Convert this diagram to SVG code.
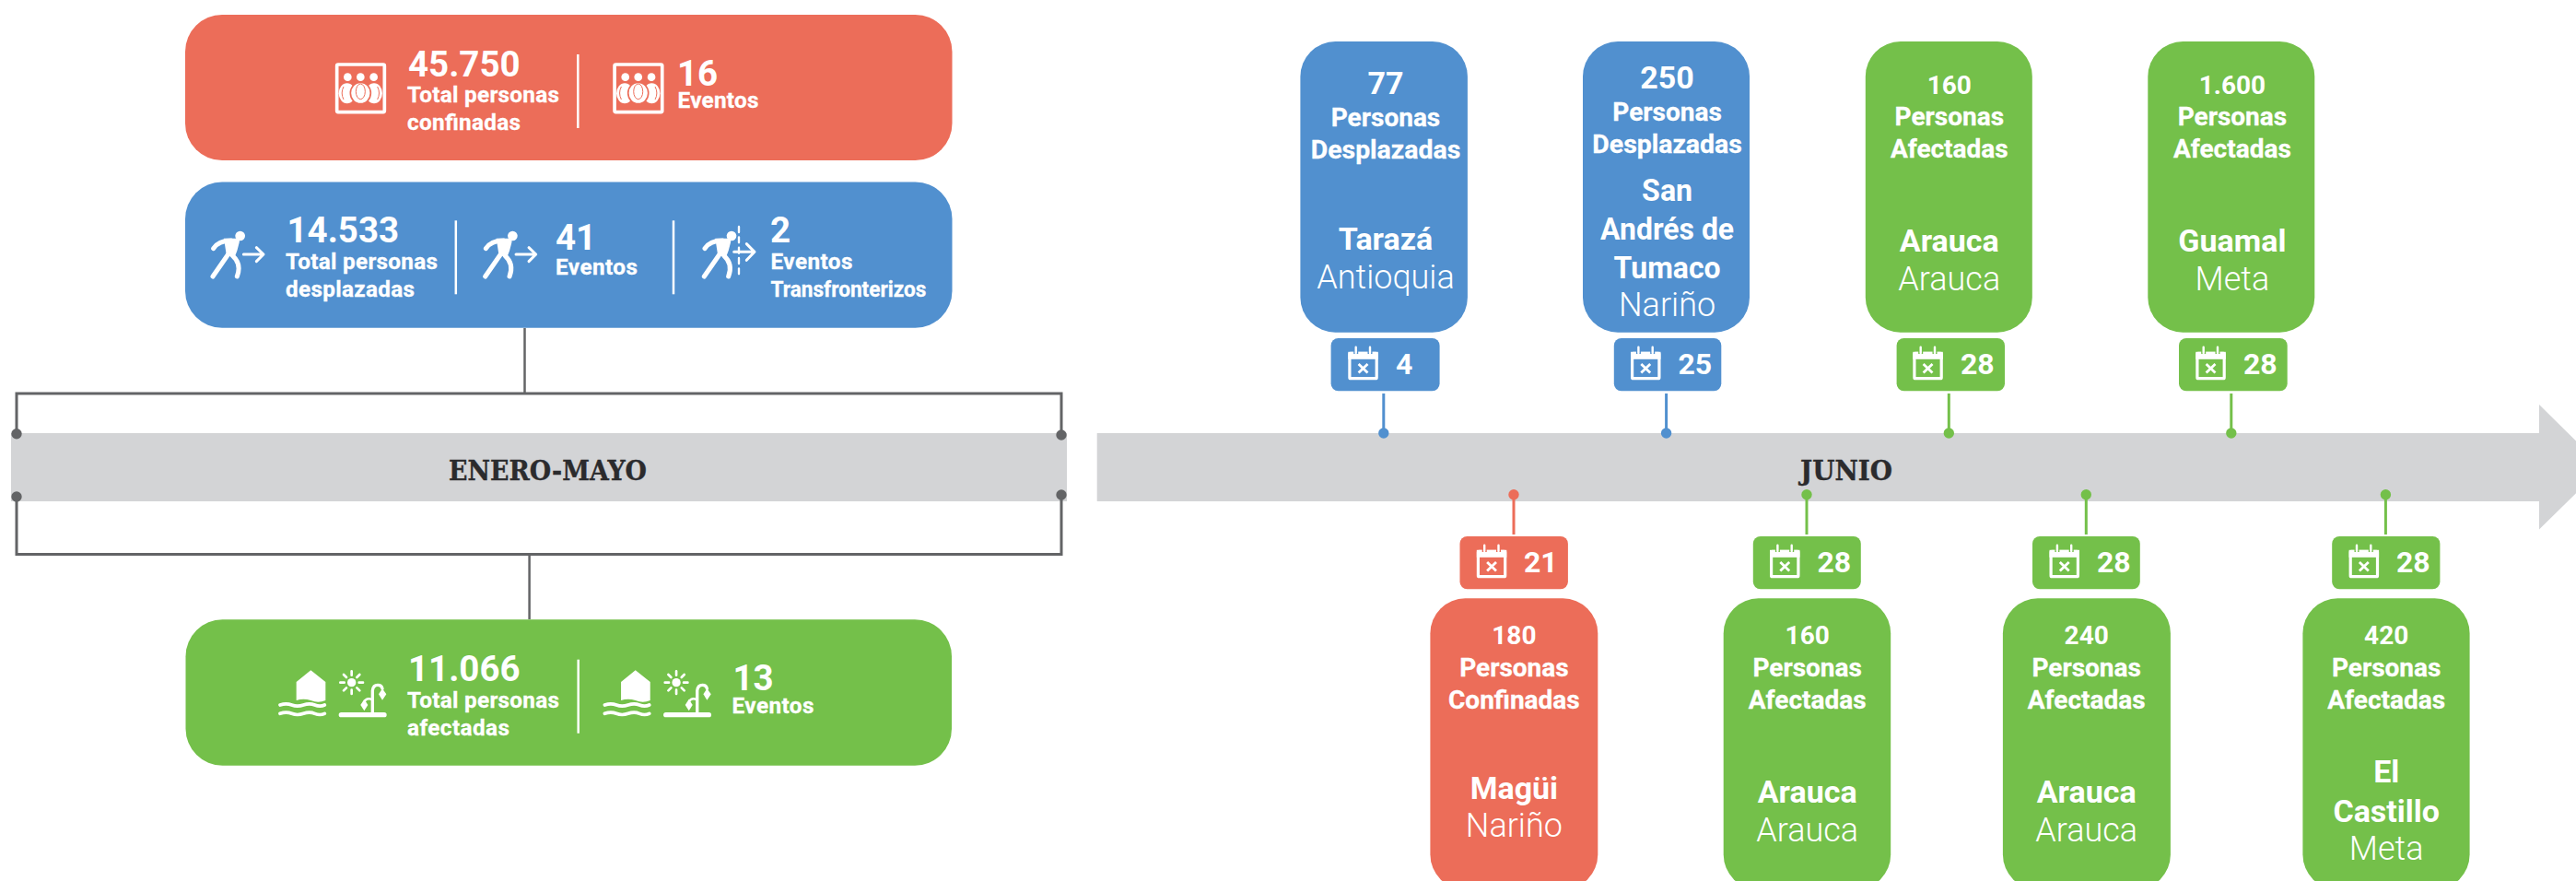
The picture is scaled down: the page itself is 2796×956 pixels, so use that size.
<svg xmlns="http://www.w3.org/2000/svg" width="2796" height="956" viewBox="0 0 2796 956">
<style>
text{font-family:Roboto,"Liberation Sans",sans-serif;fill:#fff}
.m{text-anchor:middle}
.big{font-size:38.5px;font-weight:700}
.sm{font-size:24.3px;font-weight:700;stroke:#fff;stroke-width:.3}
.n34{font-size:34px;font-weight:700}
.n28{font-size:28px;font-weight:700}
.p{font-size:28px;font-weight:700;stroke:#fff;stroke-width:.3}
.pl{font-size:34px;font-weight:700}
.dp{font-size:36px;font-weight:300}
.d{font-size:32px;font-weight:700}
.month{font-family:"DejaVu Serif","Liberation Serif",serif;font-weight:700;font-size:30px;fill:#2b2b2d;stroke:#2b2b2d;stroke-width:.4;text-anchor:middle}
.red{fill:#ec6d59;color:#ec6d59}
.blue{fill:#5190cf;color:#5190cf}
.green{fill:#74c04a;color:#74c04a}
.div{stroke:#fff;stroke-width:2.5}
.gl{stroke:#636466;stroke-width:3;fill:none}
.glt{stroke:#636466;stroke-width:2.5;fill:none}
.gd{fill:#636466}
.ws{stroke:#fff;fill:none;stroke-linecap:round;stroke-linejoin:round}
.wf{fill:#fff}
</style>
<defs>
<g id="cal">
<rect x="1.6" y="7.3" width="29.3" height="27.4" fill="none" stroke="#fff" stroke-width="3.2" rx="1"/>
<rect x="0" y="5.8" width="32.5" height="8" fill="#fff"/>
<path d="M8.4 0V8M23.7 0V8" stroke="currentColor" stroke-width="5"/>
<path d="M8.4 .8V7M23.7 .8V7" stroke="#fff" stroke-width="2.4" stroke-linecap="round"/>
<path d="M11.3 19L21.2 28.5M21.2 19L11.3 28.5" stroke="#fff" stroke-width="2.8"/>
</g>
<g id="runner">
<circle cx="137" cy="108" r="16" class="wf"/>
<path d="M50 149C62 130 80 123 108 123" class="ws" stroke-width="15"/>
<path d="M84 116H126Q137 116 134 130Q129 155 118 180L92 168Z" class="wf"/>
<path d="M100 165L48 240" class="ws" stroke-width="15"/>
<path d="M112 172C128 186 140 206 127 240" class="ws" stroke-width="15"/>
</g>
<path id="arrow1" d="M148 168H211M190 146L213 168L190 191" class="ws" stroke-width="9"/>
<g id="people">
<rect x="77" y="90" width="155" height="155" rx="4" fill="none" stroke="#fff" stroke-width="11"/>
<circle cx="112" cy="131" r="13" class="wf"/>
<circle cx="154" cy="131" r="13" class="wf"/>
<circle cx="197" cy="131" r="13" class="wf"/>
<ellipse cx="110" cy="184" rx="27" ry="33" class="wf"/>
<ellipse cx="198" cy="184" rx="27" ry="33" class="wf"/>
<ellipse cx="154" cy="183" rx="33" ry="35" fill="#fff" stroke="#ec6d59" stroke-width="5"/>
<ellipse cx="154" cy="178" rx="15" ry="25" fill="none" stroke="#ec6d59" stroke-width="3"/>
<path d="M99 162Q88 183 99 204M209 162Q220 183 209 204" fill="none" stroke="#ec6d59" stroke-width="3"/>
</g>
<g id="flood">
<path d="M95 90L142 52L190 90V150Q166 160 142 150Q118 142 95 150Z" class="wf"/>
<path d="M42 165Q62 158 80 165T118 165T155 165T187 165M42 193Q62 186 80 193T118 193T155 193T187 193" class="ws" stroke-width="11"/>
<circle cx="275" cy="92" r="14" class="wf"/>
<path d="M275 55V68M275 116V129M238 92H251M299 92H312M249 66L258 75M292 109L301 118M301 66L292 75M258 109L249 118" class="ws" stroke-width="8"/>
<path d="M241 197H381" class="ws" stroke-width="16"/>
<path d="M343 190V118Q345 100 360 100Q373 100 375 112" class="ws" stroke-width="10"/>
<path d="M343 148Q325 140 318 152" class="ws" stroke-width="7"/>
<path d="M375 112L388 130L375 149L363 130Z" class="wf"/>
<path d="M316 146L328 165L316 184L304 165Z" class="wf"/>
</g>
</defs>
<rect width="2796" height="956" fill="#fff"/>
<g id="timeline-bars">
<rect id="bar-enero-mayo" x="12" y="470" width="1146" height="74" fill="#d3d4d6"/>
<path id="bar-junio" d="M1190.7 470H2756V439L2825 507L2756 574.5V544H1190.7Z" fill="#d3d4d6"/>
<text class="month" x="594.5" y="520.5" textLength="215" lengthAdjust="spacingAndGlyphs">ENERO-MAYO</text>
<text class="month" x="2004" y="520.5" textLength="100" lengthAdjust="spacingAndGlyphs">JUNIO</text>
</g>
<g id="connectors">
<path class="glt" d="M569.5 356V427"/>
<path class="gl" d="M18 471V427H1152V472"/>
<path class="gl" d="M18 539V601.5H1152V537"/>
<path class="glt" d="M574.6 601V672"/>
<circle class="gd" cx="18" cy="470.7" r="5.7"/>
<circle class="gd" cx="1152" cy="472" r="5.7"/>
<circle class="gd" cx="18" cy="539" r="5.7"/>
<circle class="gd" cx="1152" cy="537" r="5.7"/>
<g stroke-width="3">
<path d="M1501.8 427V470" stroke="#5190cf"/><circle class="blue" cx="1501.8" cy="470" r="5.7"/>
<path d="M1808.6 427V470" stroke="#5190cf"/><circle class="blue" cx="1808.6" cy="470" r="5.7"/>
<path d="M2115.3 427V470" stroke="#74c04a"/><circle class="green" cx="2115.3" cy="470" r="5.7"/>
<path d="M2421.8 427V470" stroke="#74c04a"/><circle class="green" cx="2421.8" cy="470" r="5.7"/>
<path d="M1643 537V580" stroke="#ec6d59"/><circle class="red" cx="1643" cy="536.7" r="5.7"/>
<path d="M1961 537V580" stroke="#74c04a"/><circle class="green" cx="1961" cy="536.7" r="5.7"/>
<path d="M2264.3 537V580" stroke="#74c04a"/><circle class="green" cx="2264.3" cy="536.7" r="5.7"/>
<path d="M2589.4 537V580" stroke="#74c04a"/><circle class="green" cx="2589.4" cy="536.7" r="5.7"/>
</g>
</g>
<g id="summary-confinadas">
<rect class="red" x="201" y="16" width="832.5" height="158" rx="40"/>
<use href="#people" transform="translate(340,40) scale(.33333)"/>
<text class="big" x="443" y="82.7">45.750</text>
<text class="sm" x="442" y="110.7" textLength="165">Total personas</text>
<text class="sm" x="442" y="140.7" textLength="123">confinadas</text>
<path class="div" d="M627.3 59V139"/>
<use href="#people" transform="translate(641.4,40) scale(.33333)"/>
<text class="big" x="735" y="92.7">16</text>
<text class="sm" x="735.5" y="117.3" textLength="88">Eventos</text>
</g>
<g id="summary-desplazadas">
<rect class="blue" x="201" y="197.5" width="832.5" height="158.2" rx="40"/>
<g transform="translate(215,220) scale(.33333)"><use href="#runner"/><use href="#arrow1"/></g>
<text class="big" x="311.5" y="263.3">14.533</text>
<text class="sm" x="310" y="291.7" textLength="165">Total personas</text>
<text class="sm" x="310" y="321.7" textLength="140">desplazadas</text>
<path class="div" d="M494.8 239.3V319.3"/>
<g transform="translate(510.7,220) scale(.33333)"><use href="#runner"/><use href="#arrow1"/></g>
<text class="big" x="603" y="270.7">41</text>
<text class="sm" x="603" y="297.7" textLength="89">Eventos</text>
<path class="div" d="M731 239.3V319.3"/>
<g transform="translate(740,220) scale(.33333)">
<use href="#runner" x="25"/>
<path d="M186 78V240" class="ws" stroke-width="7" stroke-dasharray="18 16" stroke-linecap="butt"/>
<path d="M170 160H234M211 134L237 160L211 187" class="ws" stroke-width="9"/>
</g>
<text class="big" x="836" y="263.3">2</text>
<text class="sm" x="836.5" y="291.7" textLength="89">Eventos</text>
<text class="sm" x="836.5" y="321.7" textLength="169" lengthAdjust="spacingAndGlyphs">Transfronterizos</text>
</g>
<g id="summary-afectadas">
<rect class="green" x="201.5" y="672.3" width="831.5" height="158.4" rx="40"/>
<use href="#flood" transform="translate(290,710) scale(.33333)"/>
<text class="big" x="443" y="739.3">11.066</text>
<text class="sm" x="442" y="767.7" textLength="165">Total personas</text>
<text class="sm" x="442" y="797.7" textLength="111">afectadas</text>
<path class="div" d="M627.7 715.7V795.7"/>
<use href="#flood" transform="translate(642.4,710) scale(.33333)"/>
<text class="big" x="795.5" y="749">13</text>
<text class="sm" x="794.5" y="774" textLength="89">Eventos</text>
</g>
<g id="event-taraza">
<rect class="blue" x="1411.4" y="45" width="181.5" height="315.7" rx="38"/>
<text class="n34 m" x="1504" y="101.7">77</text>
<text class="p m" x="1504" y="136.7">Personas</text>
<text class="p m" x="1504" y="171.7" textLength="162.5" lengthAdjust="spacingAndGlyphs">Desplazadas</text>
<text class="pl m" x="1504" y="270.7">Tarazá</text>
<text class="dp m" x="1504" y="312.7">Antioquia</text>
<rect class="blue" x="1444.6" y="367" width="118" height="57.3" rx="8"/>
<use href="#cal" x="1463.3" y="376" class="blue"/>
<text class="d" x="1515" y="405.7">4</text>
</g>
<g id="event-tumaco">
<rect class="blue" x="1718" y="45" width="181" height="315.7" rx="38"/>
<text class="n34 m" x="1809.6" y="96">250</text>
<text class="p m" x="1809.6" y="130.7">Personas</text>
<text class="p m" x="1809.6" y="165.7" textLength="162.5" lengthAdjust="spacingAndGlyphs">Desplazadas</text>
<text class="pl m" x="1809.6" y="218" textLength="55" lengthAdjust="spacingAndGlyphs">San</text>
<text class="pl m" x="1809.6" y="260" textLength="145" lengthAdjust="spacingAndGlyphs">Andrés de</text>
<text class="pl m" x="1809.6" y="301.7" textLength="116" lengthAdjust="spacingAndGlyphs">Tumaco</text>
<text class="dp m" x="1809.6" y="343.3">Nariño</text>
<rect class="blue" x="1751.8" y="367" width="116.5" height="57.3" rx="8"/>
<use href="#cal" x="1770" y="376" class="blue"/>
<text class="d" x="1821.5" y="405.7">25</text>
</g>
<g id="event-arauca-1">
<rect class="green" x="2024.8" y="45" width="181" height="315.7" rx="38"/>
<text class="n28 m" x="2115.8" y="101.8">160</text>
<text class="p m" x="2115.8" y="136.4">Personas</text>
<text class="p m" x="2115.8" y="171">Afectadas</text>
<text class="pl m" x="2115.8" y="272.7">Arauca</text>
<text class="dp m" x="2115.8" y="314.5">Arauca</text>
<rect class="green" x="2058.6" y="367" width="117.4" height="57.3" rx="8"/>
<use href="#cal" x="2076.3" y="376" class="green"/>
<text class="d" x="2128" y="405.7">28</text>
</g>
<g id="event-guamal">
<rect class="green" x="2331.3" y="45" width="181" height="315.7" rx="38"/>
<text class="n28 m" x="2422.9" y="101.8">1.600</text>
<text class="p m" x="2422.9" y="136.4">Personas</text>
<text class="p m" x="2422.9" y="171">Afectadas</text>
<text class="pl m" x="2422.9" y="272.7">Guamal</text>
<text class="dp m" x="2422.9" y="314.5">Meta</text>
<rect class="green" x="2365" y="367" width="117.7" height="57.3" rx="8"/>
<use href="#cal" x="2383.3" y="376" class="green"/>
<text class="d" x="2435" y="405.7">28</text>
</g>
<g id="event-magui">
<rect class="red" x="1552.4" y="649.3" width="181.9" height="316" rx="38"/>
<text class="n28 m" x="1643.4" y="699">180</text>
<text class="p m" x="1643.4" y="734">Personas</text>
<text class="p m" x="1643.4" y="768.7">Confinadas</text>
<text class="pl m" x="1643.4" y="866.7">Magüi</text>
<text class="dp m" x="1643.4" y="908.3">Nariño</text>
<rect class="red" x="1584.5" y="582" width="117.4" height="57.3" rx="8"/>
<use href="#cal" x="1602.8" y="591" class="red"/>
<text class="d" x="1654" y="620.7">21</text>
</g>
<g id="event-arauca-2">
<rect class="green" x="1870.7" y="649.3" width="181.5" height="316" rx="38"/>
<text class="n28 m" x="1961.7" y="699">160</text>
<text class="p m" x="1961.7" y="734">Personas</text>
<text class="p m" x="1961.7" y="768.7">Afectadas</text>
<text class="pl m" x="1961.7" y="870.7">Arauca</text>
<text class="dp m" x="1961.7" y="912.7">Arauca</text>
<rect class="green" x="1902.8" y="582" width="117" height="57.3" rx="8"/>
<use href="#cal" x="1921" y="591" class="green"/>
<text class="d" x="1972.4" y="620.7">28</text>
</g>
<g id="event-arauca-3">
<rect class="green" x="2173.9" y="649.3" width="182" height="316" rx="38"/>
<text class="n28 m" x="2264.7" y="699">240</text>
<text class="p m" x="2264.7" y="734">Personas</text>
<text class="p m" x="2264.7" y="768.7">Afectadas</text>
<text class="pl m" x="2264.7" y="870.7">Arauca</text>
<text class="dp m" x="2264.7" y="912.7">Arauca</text>
<rect class="green" x="2206" y="582" width="116.8" height="57.3" rx="8"/>
<use href="#cal" x="2224.5" y="591" class="green"/>
<text class="d" x="2276" y="620.7">28</text>
</g>
<g id="event-castillo">
<rect class="green" x="2499.4" y="649.3" width="181.2" height="316" rx="38"/>
<text class="n28 m" x="2590.2" y="699">420</text>
<text class="p m" x="2590.2" y="734">Personas</text>
<text class="p m" x="2590.2" y="768.7">Afectadas</text>
<text class="pl m" x="2590.2" y="849.3">El</text>
<text class="pl m" x="2590.2" y="891.7">Castillo</text>
<text class="dp m" x="2590.2" y="933.3">Meta</text>
<rect class="green" x="2531.2" y="582" width="117.2" height="57.3" rx="8"/>
<use href="#cal" x="2549.6" y="591" class="green"/>
<text class="d" x="2601" y="620.7">28</text>
</g>
</svg>
